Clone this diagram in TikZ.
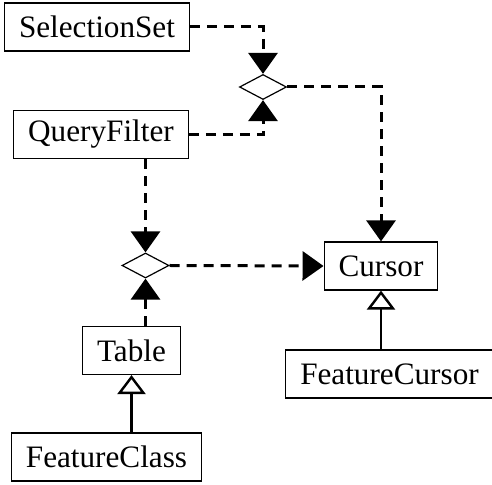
\documentclass[tikz,border=0pt]{standalone}
\usepackage{fontspec}
\setmainfont{Liberation Serif}
\usetikzlibrary{arrows.meta,positioning,shapes.geometric}

\begin{document}
\begin{tikzpicture}[x=0.5pt, y=-0.5pt,
  every node/.style={align=center, font=\fontsize{15.6}{18}\selectfont},
  classbox/.style={draw, line width=0.6pt, inner xsep=7.2pt, inner ysep=0pt, minimum height=24pt},
  joinbox/.style={draw, diamond, line width=0.6pt, inner sep=0pt, minimum width=23.5pt, minimum height=12.5pt},
  assoc/.style={-{Triangle[length=10.5pt, width=14.5pt]}, line width=1.5pt, dash pattern=on 5pt off 3.5pt},
  inherit/.style={-{Triangle[open, length=9.5pt, width=14pt, line width=1.2pt, fill=white]}, line width=1.4pt}]
\useasboundingbox (0,0) rectangle (492,485);
% classes
\node[classbox] (sel) at (97,27) {SelectionSet};
\node[classbox] (qf) at (101,134.5) {QueryFilter};
\node[classbox] (cur) at (381,266) {Cursor};
\node[classbox] (fcur) at (389.5,374) {FeatureCursor};
\node[classbox] (tab) at (131.5,350.5) {Table};
\node[classbox] (fcls) at (106.5,457) {FeatureClass};
% joins
\node[joinbox] (dtop) at (263,87) {};
\node[joinbox] (dlow) at (145.5,265.5) {};
% associations
\draw[assoc] (sel.east) -| (dtop.north);
\draw[assoc] (qf.east) -| (dtop.south);
\draw[assoc] (dtop.east) -| (cur.north);
\draw[assoc] (dlow.north |- qf.south) -- (dlow.north);
\draw[assoc] (dlow.south |- tab.north) -- (dlow.south);
\draw[assoc] (dlow.east) -- (cur.west);
% inheritance
\draw[inherit] (cur.south |- fcur.north) -- (cur.south);
\draw[inherit] (tab.south |- fcls.north) -- (tab.south);
\end{tikzpicture}
\end{document}
